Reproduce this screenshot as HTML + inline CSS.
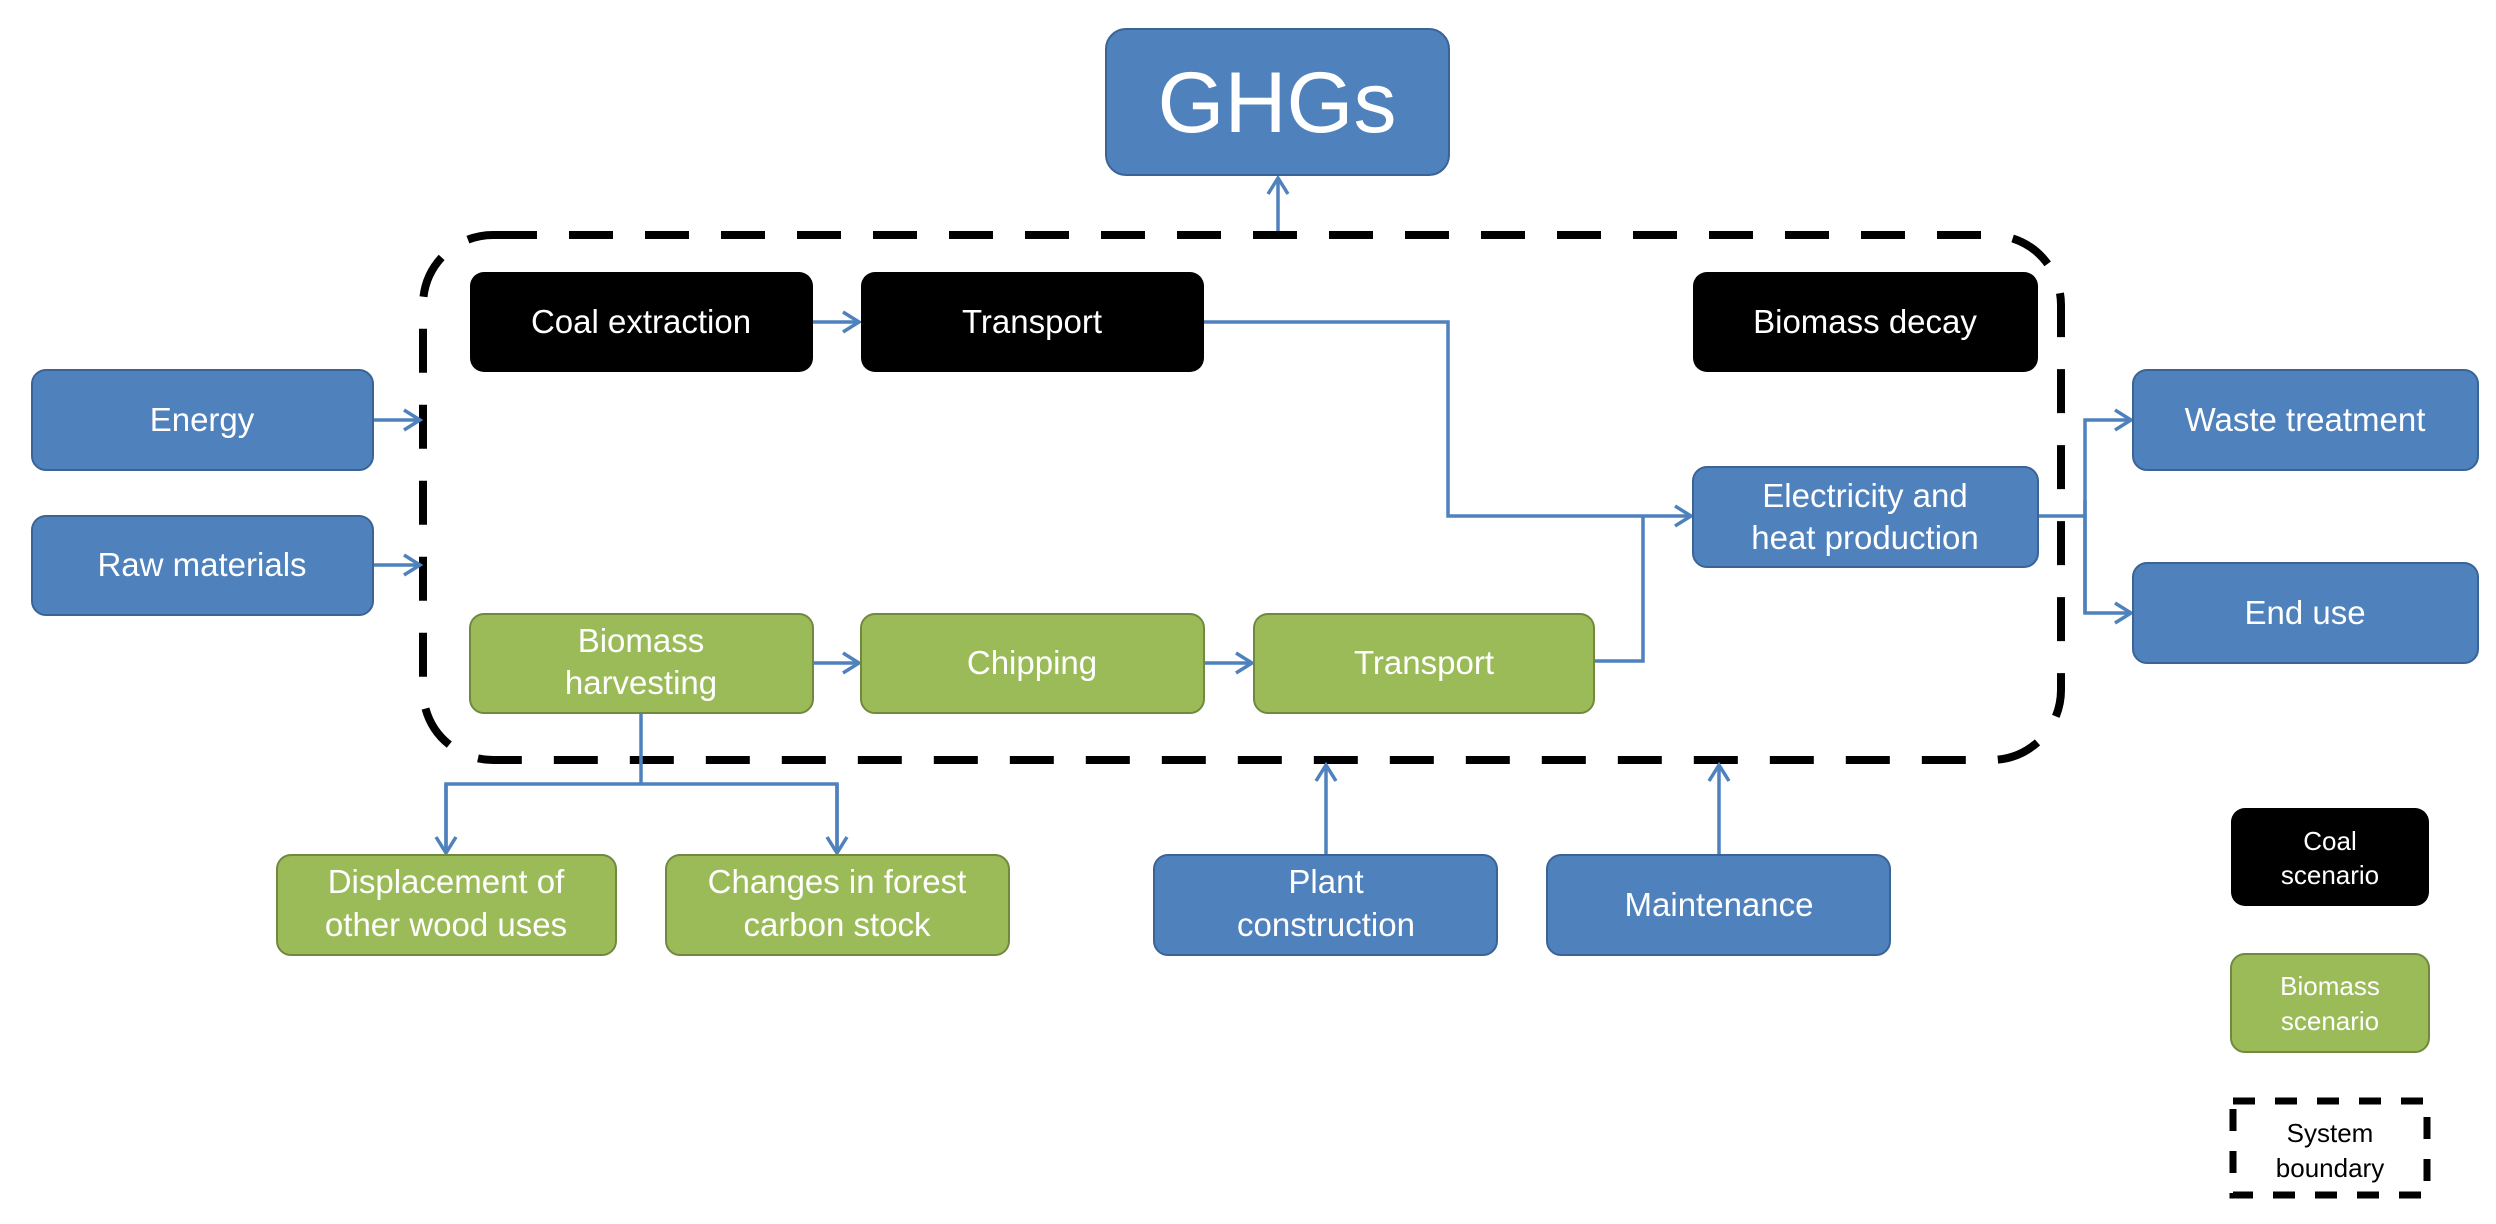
<!DOCTYPE html>
<html><head><meta charset="utf-8"><style>
html,body{margin:0;padding:0;background:#fff;}
svg{display:block;}
text{font-family:"Liberation Sans",sans-serif;fill:#fff;text-anchor:middle;}
</style></head><body>
<svg width="2496" height="1224" viewBox="0 0 2496 1224" xmlns="http://www.w3.org/2000/svg">
<defs>
<marker id="a" markerWidth="12" markerHeight="12" refX="10" refY="6" orient="auto" markerUnits="userSpaceOnUse" viewBox="0 0 12 12">
<path d="M1,0 L11,6 L1,12" fill="none" stroke="#4f81bd" stroke-width="2.5"/>
</marker>
<marker id="b" markerWidth="24" markerHeight="24" refX="20" refY="12" orient="auto" markerUnits="userSpaceOnUse" viewBox="0 0 24 24">
<path d="M4,2 L20,12 L4,22" fill="none" stroke="#4f81bd" stroke-width="3.5"/>
</marker>
</defs>

<!-- boundary -->
<rect x="423" y="235" width="1638" height="525" rx="70" ry="70" fill="none" stroke="#000" stroke-width="8" stroke-dasharray="44 32"/>

<!-- connectors -->
<g fill="none" stroke="#4f81bd" stroke-width="3.5">
<path d="M1278 231 V178" marker-end="url(#b)"/>
<path d="M813 322 H859" marker-end="url(#b)"/>
<path d="M1204 322 H1448 V516 H1691" marker-end="url(#b)"/>
<path d="M1594 661 H1643 V516"/>
<path d="M2038 516 H2085"/>
<path d="M2085 613 V420 H2131" marker-end="url(#b)"/>
<path d="M2085 500 V613 H2131" marker-end="url(#b)"/>
<path d="M373 420 H420" marker-end="url(#b)"/>
<path d="M373 565 H420" marker-end="url(#b)"/>
<path d="M813 663 H859" marker-end="url(#b)"/>
<path d="M1204 663 H1252" marker-end="url(#b)"/>
<path d="M641 713 V784"/>
<path d="M446 853 V784 H837 V853" />
<path d="M446 784 V853" marker-end="url(#b)"/>
<path d="M837 784 V853" marker-end="url(#b)"/>
<path d="M1326 855 V765" marker-end="url(#b)"/>
<path d="M1719 855 V765" marker-end="url(#b)"/>
</g>

<!-- GHGs -->
<rect x="1106" y="29" width="343" height="146" rx="20" fill="#4f81bd" stroke="#3a6496" stroke-width="2"/>
<text x="1277" y="132" font-size="86">GHGs</text>

<g stroke-width="2">
<!-- black -->
<rect x="470" y="272" width="343" height="100" rx="14" fill="#000"/>
<rect x="861" y="272" width="343" height="100" rx="14" fill="#000"/>
<rect x="1693" y="272" width="345" height="100" rx="14" fill="#000"/>
<!-- blue -->
<rect x="32" y="370" width="341" height="100" rx="14" fill="#4f81bd" stroke="#3a6496"/>
<rect x="32" y="516" width="341" height="99" rx="14" fill="#4f81bd" stroke="#3a6496"/>
<rect x="1693" y="467" width="345" height="100" rx="14" fill="#4f81bd" stroke="#3a6496"/>
<rect x="2133" y="370" width="345" height="100" rx="14" fill="#4f81bd" stroke="#3a6496"/>
<rect x="2133" y="563" width="345" height="100" rx="14" fill="#4f81bd" stroke="#3a6496"/>
<rect x="1154" y="855" width="343" height="100" rx="14" fill="#4f81bd" stroke="#3a6496"/>
<rect x="1547" y="855" width="343" height="100" rx="14" fill="#4f81bd" stroke="#3a6496"/>
<!-- green -->
<rect x="470" y="614" width="343" height="99" rx="14" fill="#9bbb59" stroke="#71893f"/>
<rect x="861" y="614" width="343" height="99" rx="14" fill="#9bbb59" stroke="#71893f"/>
<rect x="1254" y="614" width="340" height="99" rx="14" fill="#9bbb59" stroke="#71893f"/>
<rect x="277" y="855" width="339" height="100" rx="14" fill="#9bbb59" stroke="#71893f"/>
<rect x="666" y="855" width="343" height="100" rx="14" fill="#9bbb59" stroke="#71893f"/>
<!-- legend -->
<rect x="2231" y="808" width="198" height="98" rx="14" fill="#000"/>
<rect x="2231" y="954" width="198" height="98" rx="14" fill="#9bbb59" stroke="#71893f"/>
</g>
<rect x="2233" y="1101" width="194" height="94" fill="none" stroke="#000" stroke-width="7" stroke-dasharray="22 20"/>

<g font-size="33">
<text x="641" y="333">Coal extraction</text>
<text x="1032" y="333">Transport</text>
<text x="1865" y="333">Biomass decay</text>
<text x="202" y="431">Energy</text>
<text x="202" y="576">Raw materials</text>
<text x="1865" y="507">Electricity and</text>
<text x="1865" y="549">heat production</text>
<text x="2305" y="431">Waste treatment</text>
<text x="2305" y="624">End use</text>
<text x="641" y="652">Biomass</text>
<text x="641" y="694">harvesting</text>
<text x="1032" y="674">Chipping</text>
<text x="1424" y="674">Transport</text>
<text x="446" y="893">Displacement of</text>
<text x="446" y="936">other wood uses</text>
<text x="837" y="893">Changes in forest</text>
<text x="837" y="936">carbon stock</text>
<text x="1326" y="893">Plant</text>
<text x="1326" y="936">construction</text>
<text x="1719" y="916">Maintenance</text>
</g>
<g font-size="26">
<text x="2330" y="850">Coal</text>
<text x="2330" y="884">scenario</text>
<text x="2330" y="995">Biomass</text>
<text x="2330" y="1030">scenario</text>
<text x="2330" y="1142" style="fill:#000">System</text>
<text x="2330" y="1177" style="fill:#000">boundary</text>
</g>
</svg>
</body></html>
